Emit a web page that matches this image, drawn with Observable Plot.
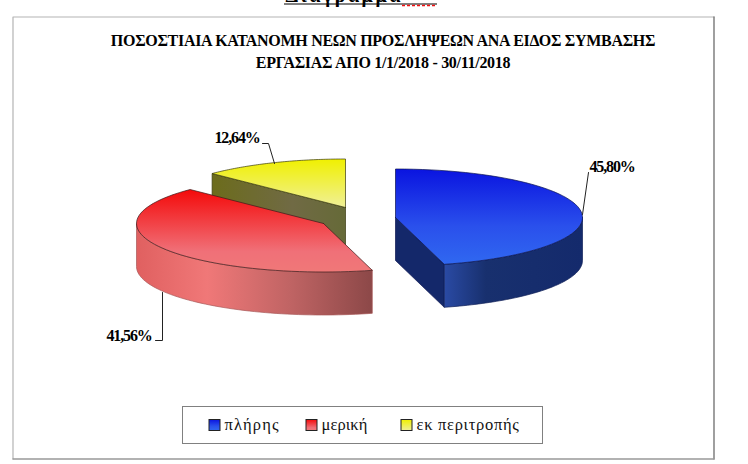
<!DOCTYPE html>
<html><head><meta charset="utf-8">
<script src="https://cdn.jsdelivr.net/npm/d3@7"></script>
<script src="https://cdn.jsdelivr.net/npm/@observablehq/plot@0.6"></script>
<style>html,body{margin:0;padding:0;background:#fff}svg{display:block}</style>
</head><body><div id="chart"></div>
<script>
const categories = ["πλήρης", "μερική", "εκ περιτροπής"];
const shares = [45.80, 41.56, 12.64];
const valueLabels = ["45,80%", "41,56%", "12,64%"];
const titleLines = ["ΠΟΣΟΣΤΙΑΙΑ ΚΑΤΑΝΟΜΗ ΝΕΩΝ ΠΡΟΣΛΗΨΕΩΝ ΑΝΑ ΕΙΔΟΣ ΣΥΜΒΑΣΗΣ", "ΕΡΓΑΣΙΑΣ ΑΠΟ 1/1/2018 - 30/11/2018"];
const heading = "Διάγραμμα";

// layout, in picture units
const W = 748, H = 464, RX = 187, RY = 48.5, DEPTH = 43;
const centres = [[395, 217], [323, 223], [345, 207]];
const edge = ["#0c1450", "#3a1a1a", "#3a3a10"];

let acc = 0;
const slices = shares.map((v, i) => {
  const t0 = acc / 100 * 2 * Math.PI; acc += v;
  const t1 = acc / 100 * 2 * Math.PI;
  return {i, t0, t1, c: centres[i]};
});
const pt = (s, t, dz = 0) => ({s: s.i, x: s.c[0] + RX * Math.sin(t), y: s.c[1] - RY * Math.cos(t) + dz});
const arc = (s, a, b, dz = 0) => d3.range(0, 61).map(k => pt(s, a + (b - a) * k / 60, dz));

const face = s => [{s: s.i, x: s.c[0], y: s.c[1]}, ...arc(s, s.t0, s.t1), {s: s.i, x: s.c[0], y: s.c[1]}];
// outer rim wall: the part of the arc that faces the viewer
const rim = s => {
  const a = Math.max(s.t0, Math.PI / 2), b = Math.min(s.t1, 3 * Math.PI / 2);
  const upper = arc(s, a, b), lower = arc(s, b, a, DEPTH);
  return [...upper, ...lower, upper[0]];
};
// flat cut wall between centre and a rim point
const cut = (s, t) => {
  const o = {s: s.i, x: s.c[0], y: s.c[1]}, p = pt(s, t);
  return [o, p, {...p, y: p.y + DEPTH}, {...o, y: o.y + DEPTH}, o];
};
const [sA, sB, sC] = slices;
const poly = (data, fill, stroke) => Plot.line(data, {x: "x", y: "y", fill, stroke, strokeWidth: 0.7, curve: "linear"});

function stops(id, horizontal, list) {
  return `<linearGradient id="${id}" x1="0" y1="0" x2="${horizontal ? 1 : 0}" y2="${horizontal ? 0 : 1}">` +
    list.map(([o, c]) => `<stop offset="${o}" stop-color="${c}"/>`).join("") + `</linearGradient>`;
}
const defs = () => {
  const g = d3.create("svg:g");
  g.html("<defs>" +
    stops("topA", false, [[0, "#0a14e0"], [0.6, "#2a50ec"], [1, "#3068f0"]]) +
    stops("topB", false, [[0, "#f40a0a"], [0.75, "#f07078"], [1, "#f07878"]]) +
    stops("topC", false, [[0, "#f0f000"], [1, "#f0f098"]]) +
    stops("sideA", true, [[0, "#2a4aa4"], [0.3, "#18306e"], [1, "#142a6c"]]) +
    stops("sideB", true, [[0, "#e06060"], [0.3, "#f07878"], [0.65, "#c06464"], [1, "#8c4848"]]) +
    stops("sideC", true, [[0, "#6c6c1c"], [0.6, "#706a44"], [1, "#666a38"]]) +
    "</defs>");
  return g.node();
};

const leaders = [
  [[582, 214], [588, 172]],
  [[162, 292], [162, 340], [155, 340]],
  [[262, 143], [268, 143], [274, 163]]
].flatMap((l, i) => l.map(([x, y]) => ({x, y, i})));

const labelPos = [[589, 166], [106, 335], [214, 137]];
const labels = valueLabels.map((t, i) => ({t, x: labelPos[i][0], y: labelPos[i][1]}));
const legendX = [[209, 224], [306, 321], [401, 416]];
const legend = categories.map((t, i) => ({t, sx: legendX[i][0], tx: legendX[i][1], fill: ["url(#topA)", "url(#topB)", "url(#topC)"][i]}));

const serif = "'Liberation Serif','Times New Roman',serif";
const plot = Plot.plot({
  width: W, height: H, margin: 0,
  x: {domain: [0, W], range: [0, W], axis: null},
  y: {domain: [0, H], range: [0, H], axis: null},
  style: {fontFamily: serif, background: "#fff", overflow: "hidden"},
  marks: [
    defs,
    // cropped document heading and chart frame
    Plot.text([heading], {x: 285, y: 1, text: d => d, textAnchor: "start", lineAnchor: "bottom", fontSize: 20, fontWeight: "bold", fill: "#000"}),
    Plot.ruleY([3.5], {x1: 284, x2: 437, stroke: "#000", strokeWidth: 1.2}),
    Plot.ruleY([5], {x1: 402, x2: 437, stroke: "#f01010", strokeWidth: 1.4, strokeDasharray: "3 2"}),
    Plot.line([{x: 12.5, y: 458.5}, {x: 12.5, y: 16.5}, {x: 713.5, y: 16.5}], {x: "x", y: "y", stroke: "#b4b4b4", strokeWidth: 1.2}),
    Plot.line([{x: 713.5, y: 16.5}, {x: 713.5, y: 458.5}], {x: "x", y: "y", stroke: "#777", strokeWidth: 1.4}),
    Plot.line([{x: 12.5, y: 458.5}, {x: 713.5, y: 458.5}], {x: "x", y: "y", stroke: "#999", strokeWidth: 1.4}),
    // title
    Plot.text(titleLines, {x: 382.5, y: (d, i) => [40, 62][i], text: d => d, fontSize: 16, fontWeight: "bold", fill: "#000"}),
    // yellow
    poly(cut(sC, sC.t0), "url(#sideC)", edge[2]),
    poly(face(sC), "url(#topC)", edge[2]),
    // red
    poly(rim(sB), "url(#sideB)", "#a85858"),
    poly(face(sB), "url(#topB)", edge[1]),
    // blue
    poly(cut(sA, sA.t1), "#14286a", edge[0]),
    poly(rim(sA), "url(#sideA)", "#101f58"),
    poly(face(sA), "url(#topA)", edge[0]),
    // leaders and labels
    Plot.line(leaders, {x: "x", y: "y", z: "i", stroke: "#222", strokeWidth: 1}),
    Plot.text(labels, {x: "x", y: "y", text: "t", textAnchor: "start", fontSize: 16, fontWeight: "bold", fill: "#000"}),
    // legend
    Plot.rect([0], {x1: 182.5, x2: 542.5, y1: 406.5, y2: 443.5, fill: "#fff", stroke: "#808080", strokeWidth: 1}),
    Plot.rect(legend, {x1: "sx", x2: d => d.sx + 11, y1: 419.5, y2: 430.5, fill: "fill", stroke: "#222", strokeWidth: 1}),
    Plot.text(legend, {x: "tx", y: 424.5, text: "t", textAnchor: "start", fontSize: 16.5, fill: "#111"})
  ]
});
// tracking of each text, which the Plot text mark has no option for
const tracking = new Map([
  [heading, 2.5],
  [titleLines[0], -0.3], [titleLines[1], -0.3],
  [valueLabels[0], -1.15], [valueLabels[1], -1.15], [valueLabels[2], -1.15],
  [categories[0], 1.15], [categories[1], 0.1], [categories[2], 0.7]
]);
d3.select(plot).selectAll("text").each(function () {
  const s = tracking.get(this.textContent);
  if (s !== undefined) this.style.letterSpacing = s + "px";
});
document.getElementById("chart").append(plot);
</script></body></html>
